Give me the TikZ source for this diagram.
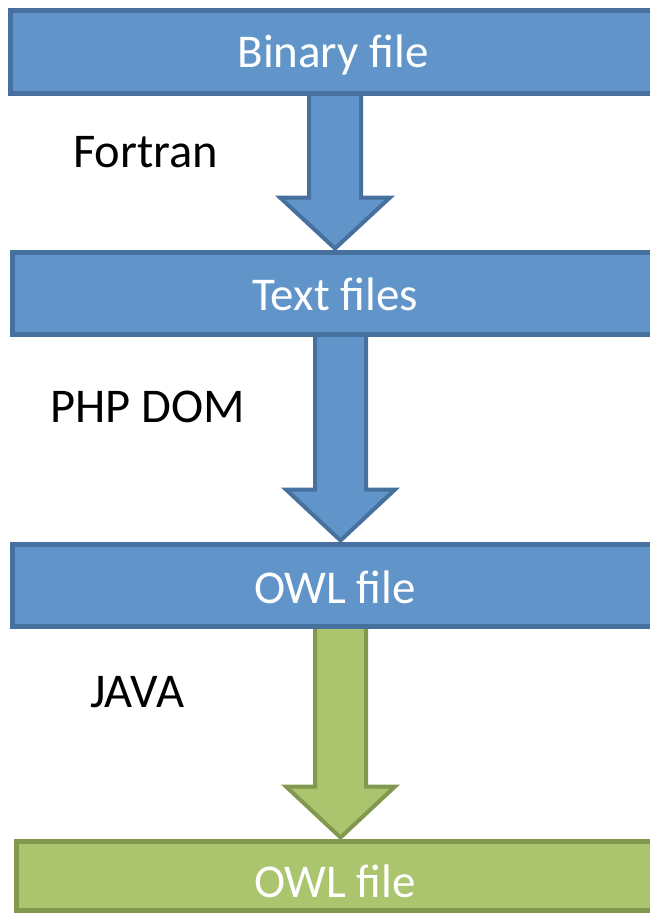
\documentclass[tikz,border=0pt]{standalone}
\usepackage{fontspec}
\setmainfont{Carlito}
\usetikzlibrary{calc,backgrounds}
\definecolor{boxblue}{RGB}{97,149,201}
\definecolor{lineblue}{RGB}{70,112,158}
\definecolor{boxgreen}{RGB}{171,196,110}
\definecolor{linegreen}{RGB}{130,152,79}

% block arrow from the bottom of one stage to the top of the next
% #1 style, #2 source node, #3 target node, #4 centre x, #5 shaft half width, #6 head half width
\newcommand\flowarrow[6]{%
  \draw[#1] let \p1=(#2.south), \p2=(#3.north) in
    (#4pt-#5pt,\y1) -- (#4pt-#5pt,\y2+55pt) -- (#4pt-#6pt,\y2+55pt) --
    (#4pt,\y2+4pt) --
    (#4pt+#6pt,\y2+55pt) -- (#4pt+#5pt,\y2+55pt) -- (#4pt+#5pt,\y1) -- cycle;}

\begin{document}
\begin{tikzpicture}[x=1pt,y=-1pt,
  stage/.style={rectangle, inner sep=0pt, outer sep=0pt, line width=5pt,
    text=white, font=\fontsize{47}{47}\selectfont, anchor=north west},
  bluestage/.style={stage, fill=boxblue, draw=lineblue},
  greenstage/.style={stage, fill=boxgreen, draw=linegreen},
  tool/.style={anchor=base west, inner sep=0pt, font=\fontsize{48.5}{48.5}\selectfont},
  bluearrow/.style={fill=boxblue, draw=lineblue, line width=4pt, line join=miter},
  greenarrow/.style={fill=boxgreen, draw=linegreen, line width=4pt, line join=miter}]
\useasboundingbox (0,0) rectangle (650,915);
\clip (0,0) rectangle (650,915);

% processing stages
\node[bluestage, minimum width=645pt, text height=57.5pt, text depth=25.5pt]
  (bin) at (10.5,10.5) {Binary file};
\node[bluestage, minimum width=645pt, text height=57.5pt, text depth=24.5pt]
  (txt) at (12.5,252.5) {Text files};
\node[bluestage, minimum width=645pt, text height=58.5pt, text depth=23.5pt]
  (owl) at (12.5,544.5) {OWL file};
\node[greenstage, minimum width=637pt, text height=55.5pt, text depth=13.5pt]
  (owlout) at (16.5,841.5) {OWL file};

% tools used for each conversion
\node[tool] (fortran) at (73,167) {Fortran};
\node[tool] (php) at (50,422) {PHP DOM};
\node[tool] (java) at (90,707) {JAVA};

% conversion arrows behind the stages
\begin{scope}[on background layer]
  \flowarrow{bluearrow}{bin}{txt}{335}{26}{55}
  \flowarrow{bluearrow}{txt}{owl}{340.5}{25.5}{54.5}
  \flowarrow{greenarrow}{owl}{owlout}{340.5}{25.5}{54.5}
\end{scope}
\end{tikzpicture}
\end{document}
